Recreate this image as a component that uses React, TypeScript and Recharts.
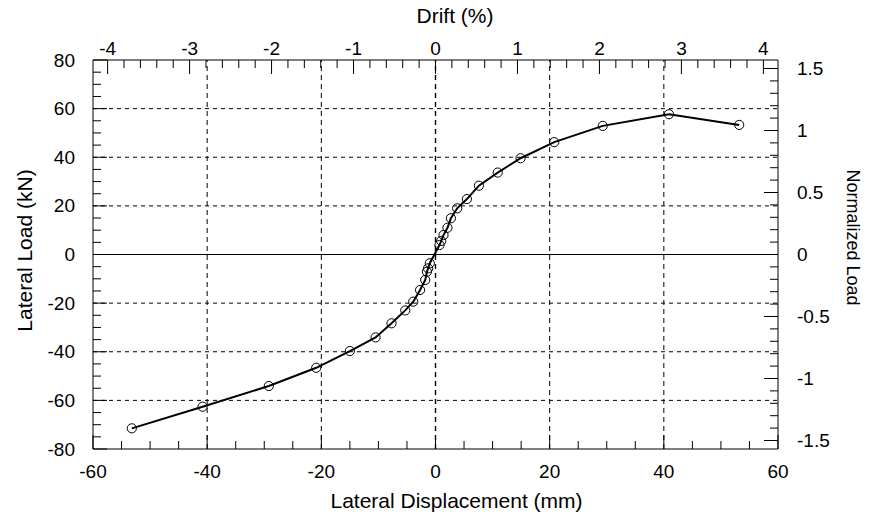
import React from "react";
import { LineChart, Line, XAxis, YAxis, ReferenceLine, Label } from "recharts";

// ---- data ----
const displacement = [-53.2, -40.8, -29.2, -20.9, -15.0, -10.5, -7.7, -5.3, -3.9, -2.7, -1.8, -1.5, -1.3, -1.0, 0.7, 1.0, 1.4, 2.1, 2.7, 3.8, 5.5, 7.6, 10.9, 14.9, 20.8, 29.3, 40.9, 53.2];
const lateralLoad = [-71.5, -62.6, -54.1, -46.6, -39.7, -34.1, -28.3, -23.0, -19.4, -14.6, -10.5, -7.1, -5.7, -3.6, 3.9, 5.6, 8.0, 11.0, 14.9, 19.0, 22.8, 28.3, 33.7, 39.6, 46.2, 52.9, 57.7, 53.3];

// axis definitions
const mmDomain = [-60, 60];
const kNDomain = [-80, 80];
const mmPerPercentDrift = 14.36; // displacement of 1% drift
const refLoad = 51; // load for normalized = 1
const mmMajorTicks = [-60, -40, -20, 0, 20, 40, 60];
const kNMajorTicks = [-80, -60, -40, -20, 0, 20, 40, 60, 80];
const driftMajorTicks = [-4, -3, -2, -1, 0, 1, 2, 3, 4];
const normMajorTicks = [-1.5, -1, -0.5, 0, 0.5, 1, 1.5];
const gridX = [-40, -20, 0, 20, 40];
const gridY = [-60, -40, -20, 20, 40, 60];

const range = (a: number, b: number, step: number) => {
  const out: number[] = [];
  const n = Math.round((b - a) / step);
  for (let i = 0; i <= n; i++) out.push(Math.round((a + i * step) * 1000) / 1000);
  return out;
};
const mmTicks = range(-60, 60, 5);
const kNTicks = range(-80, 80, 5);
const driftTicks = range(-4, 4, 0.2);
const normTicks = range(-1.5, 1.5, 0.1);

const data = displacement.map((d, i) => ({ disp: d, load: lateralLoad[i] }));
const driftDomain = [mmDomain[0] / mmPerPercentDrift, mmDomain[1] / mmPerPercentDrift];
const normDomain = [kNDomain[0] / refLoad, kNDomain[1] / refLoad];

// ---- layout ----
const W = 864;
const H = 507;
const PLOT = { left: 85, right: 770, top: 52, bottom: 441 };
const FONT = "'Liberation Sans', Arial, sans-serif";
const TICK_FS = 19;
const MAJOR_LEN = 14;
const MINOR_LEN = 8;

const isMajor = (v: number, majors: number[]) => majors.some((m) => Math.abs(m - v) < 1e-6);

const BottomTick = (props: any) => {
  const { x, payload } = props;
  const v = payload.value;
  const major = isMajor(v, mmMajorTicks);
  return (
    <g>
      <line x1={x} x2={x} y1={PLOT.bottom} y2={PLOT.bottom - (major ? MAJOR_LEN : MINOR_LEN)} stroke="#000" strokeWidth={1} />
      {major && (
        <text x={x} y={PLOT.bottom + 29} textAnchor="middle" fontSize={TICK_FS} fontFamily={FONT} fill="#000">
          {String(v)}
        </text>
      )}
    </g>
  );
};

const TopTick = (props: any) => {
  const { x, payload } = props;
  const v = payload.value;
  const major = isMajor(v, driftMajorTicks);
  return (
    <g>
      <line x1={x} x2={x} y1={PLOT.top} y2={PLOT.top + (major ? MAJOR_LEN : MINOR_LEN)} stroke="#000" strokeWidth={1} />
      {major && (
        <text x={x} y={PLOT.top - 5} textAnchor="middle" fontSize={TICK_FS} fontFamily={FONT} fill="#000">
          {String(Math.round(v))}
        </text>
      )}
    </g>
  );
};

const LeftTick = (props: any) => {
  const { y, payload } = props;
  const v = payload.value;
  const major = isMajor(v, kNMajorTicks);
  return (
    <g>
      <line x1={PLOT.left} x2={PLOT.left + (major ? MAJOR_LEN : MINOR_LEN)} y1={y} y2={y} stroke="#000" strokeWidth={1} />
      {major && (
        <text x={PLOT.left - 18} y={y + 6.5} textAnchor="end" fontSize={TICK_FS} fontFamily={FONT} fill="#000">
          {String(v)}
        </text>
      )}
    </g>
  );
};

const RightTick = (props: any) => {
  const { y, payload } = props;
  const v = payload.value;
  const major = isMajor(v, normMajorTicks);
  return (
    <g>
      <line x1={PLOT.right} x2={PLOT.right - (major ? MAJOR_LEN : MINOR_LEN)} y1={y} y2={y} stroke="#000" strokeWidth={1} />
      {major && (
        <text x={PLOT.right + 19} y={y + 6.5} textAnchor="start" fontSize={TICK_FS} fontFamily={FONT} fill="#000">
          {String(Math.round(v * 10) / 10)}
        </text>
      )}
    </g>
  );
};

const Circle = (props: any) => {
  const { cx, cy } = props;
  if (cx == null || cy == null) return null;
  return <circle cx={cx} cy={cy} r={4.6} fill="none" stroke="#000" strokeWidth={1} />;
};

export default function App() {
  return (
    <LineChart
      width={W}
      height={H}
      data={data}
      margin={{ top: PLOT.top - 30, right: W - PLOT.right - 60, bottom: H - PLOT.bottom - 30, left: PLOT.left - 60 }}
    >
      <XAxis
        xAxisId="mm"
        type="number"
        dataKey="disp"
        domain={mmDomain}
        ticks={mmTicks}
        interval={0}
        allowDataOverflow
        orientation="bottom"
        height={30}
        tickLine={false}
        tick={<BottomTick />}
        axisLine={{ stroke: "#000", strokeWidth: 1 }}
      >
        <Label
          content={() => (
            <text x={448.5} y={500} textAnchor="middle" fontSize={21} fontFamily={FONT} fill="#000">
              Lateral Displacement (mm)
            </text>
          )}
        />
      </XAxis>
      <XAxis
        xAxisId="drift"
        type="number"
        dataKey={(d: any) => d.disp / mmPerPercentDrift}
        domain={driftDomain}
        ticks={driftTicks}
        interval={0}
        allowDataOverflow
        orientation="top"
        height={30}
        tickLine={false}
        tick={<TopTick />}
        axisLine={{ stroke: "#000", strokeWidth: 1 }}
      >
        <Label
          content={() => (
            <text x={447} y={15} textAnchor="middle" fontSize={21} fontFamily={FONT} fill="#000">
              Drift (%)
            </text>
          )}
        />
      </XAxis>
      <YAxis
        yAxisId="kN"
        type="number"
        domain={kNDomain}
        ticks={kNTicks}
        interval={0}
        allowDataOverflow
        orientation="left"
        width={60}
        tickLine={false}
        tick={<LeftTick />}
        axisLine={{ stroke: "#000", strokeWidth: 1 }}
      >
        <Label
          content={() => (
            <text transform={`translate(24, 242.5) rotate(-90)`} textAnchor="middle" fontSize={21} fontFamily={FONT} fill="#000">
              Lateral Load (kN)
            </text>
          )}
        />
      </YAxis>
      <YAxis
        yAxisId="norm"
        type="number"
        dataKey={(d: any) => d.load / refLoad}
        domain={normDomain}
        ticks={normTicks}
        interval={0}
        allowDataOverflow
        orientation="right"
        width={60}
        tickLine={false}
        tick={<RightTick />}
        axisLine={{ stroke: "#000", strokeWidth: 1 }}
      >
        <Label
          content={() => (
            <text transform={`translate(839, 229.5) rotate(90)`} textAnchor="middle" fontSize={18} fontFamily={FONT} fill="#000">
              Normalized Load
            </text>
          )}
        />
      </YAxis>

      {gridX.map((v) => (
        <ReferenceLine
          key={`gx${v}`}
          xAxisId="mm"
          yAxisId="kN"
          x={v}
          stroke="#000"
          strokeWidth={v === 0 ? 1.4 : 1}
          strokeDasharray="5 4"
        />
      ))}
      {gridY.map((v) => (
        <ReferenceLine key={`gy${v}`} xAxisId="mm" yAxisId="kN" y={v} stroke="#000" strokeWidth={1} strokeDasharray="4 4" />
      ))}
      <ReferenceLine xAxisId="mm" yAxisId="kN" y={0} stroke="#000" strokeWidth={1} />

      <Line
        xAxisId="mm"
        yAxisId="kN"
        type="linear"
        dataKey="load"
        stroke="#000"
        strokeWidth={2}
        dot={<Circle />}
        activeDot={false}
        isAnimationActive={false}
      />
    </LineChart>
  );
}
